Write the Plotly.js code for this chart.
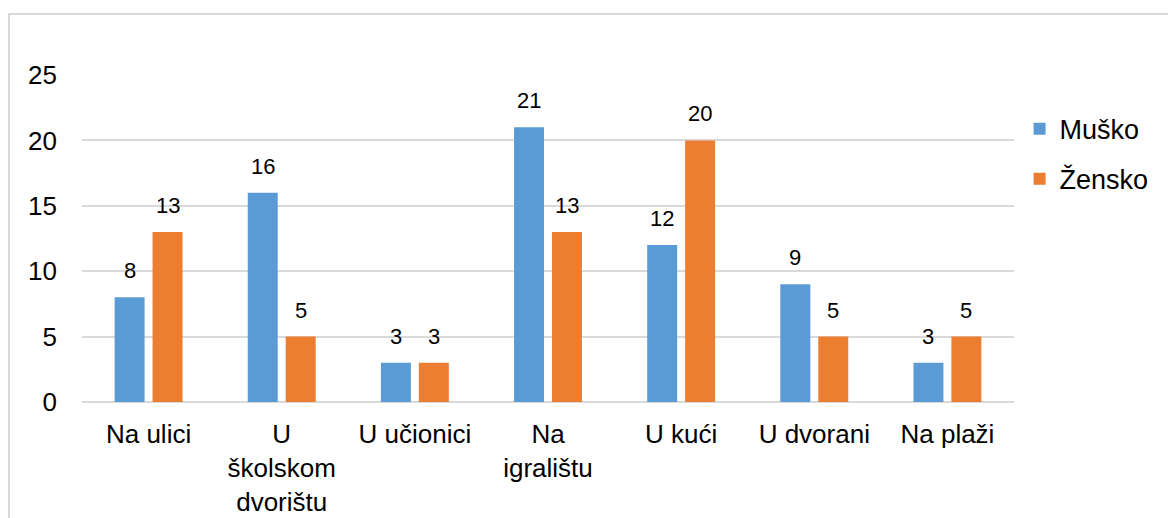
<!DOCTYPE html>
<html>
<head>
<meta charset="utf-8">
<script src="https://cdn.plot.ly/plotly-3.0.1.min.js"></script>
<style>html,body{margin:0;padding:0;background:#fff;}#chart{width:1168px;height:518px;}</style>
</head>
<body>
<div id="chart"></div>
<script>
const categories = ["Na ulici", "U školskom dvorištu", "U učionici", "Na igralištu", "U kući", "U dvorani", "Na plaži"];
const tickLabels = ["Na ulici", "U<br>školskom<br>dvorištu", "U učionici", "Na<br>igralištu", "U kući", "U dvorani", "Na plaži"];
const seriesNames = ["Muško", "Žensko"];
const musko = [8, 16, 3, 21, 12, 9, 3];
const zensko = [13, 5, 3, 13, 20, 5, 5];
const yTicks = [0, 5, 10, 15, 20, 25];

const FONT = "Liberation Sans, Arial, sans-serif";
const colors = ["#5B9BD5", "#ED7D31"];
const seriesVals = [musko, zensko];

const traces = seriesVals.map((vals, i) => ({
  type: "bar",
  name: seriesNames[i],
  x: categories,
  y: vals,
  marker: {color: colors[i]},
  legendgroup: "g" + i,
  hoverinfo: "none"
}));

const annotations = [];
seriesVals.forEach((vals, i) => {
  vals.forEach((v, k) => {
    annotations.push({
      x: categories[k], y: v, xref: "x", yref: "y",
      text: String(v), showarrow: false,
      xanchor: "center", yanchor: "bottom",
      xshift: i === 0 ? -19 : 19, yshift: 12,
      font: {family: FONT, size: 22, color: "#000"}
    });
  });
});

const layout = {
  width: 1168, height: 518,
  margin: {l: 82, r: 154, t: 75, b: 116},
  paper_bgcolor: "#fff", plot_bgcolor: "#fff",
  font: {family: FONT, color: "#000", size: 26},
  barmode: "group",
  bargap: 0.43,
  bargroupgap: 0.21,
  showlegend: true,
  legend: {
    x: 1.006, xanchor: "left", y: 0.758, yanchor: "middle",
    font: {family: FONT, size: 27, color: "#000"},
    traceorder: "grouped", tracegroupgap: 12,
    itemwidth: 30
  },
  xaxis: {
    type: "category",
    tickvals: categories, ticktext: tickLabels,
    showgrid: false, showline: false, zeroline: false,
    ticks: "", ticklabelstandoff: 14,
    tickfont: {family: FONT, size: 26, color: "#000"}
  },
  yaxis: {
    range: [0, 25], tickvals: yTicks, ticktext: yTicks.map(String),
    showgrid: true, gridcolor: "#D9D9D9", gridwidth: 2,
    zeroline: true, zerolinecolor: "#D9D9D9", zerolinewidth: 2,
    showline: false, ticks: "", ticklabelstandoff: 24,
    tickfont: {family: FONT, size: 26, color: "#000"}
  },
  annotations: annotations,
  shapes: [{
    type: "rect", xref: "paper", yref: "paper",
    x0: -0.0783, x1: 1.3, y0: -0.5, y1: 1.1865,
    line: {color: "#D9D9D9", width: 2}, fillcolor: "rgba(0,0,0,0)", layer: "below"
  }]
};

Plotly.newPlot("chart", traces, layout, {displayModeBar: false, staticPlot: true});
</script>
</body>
</html>
